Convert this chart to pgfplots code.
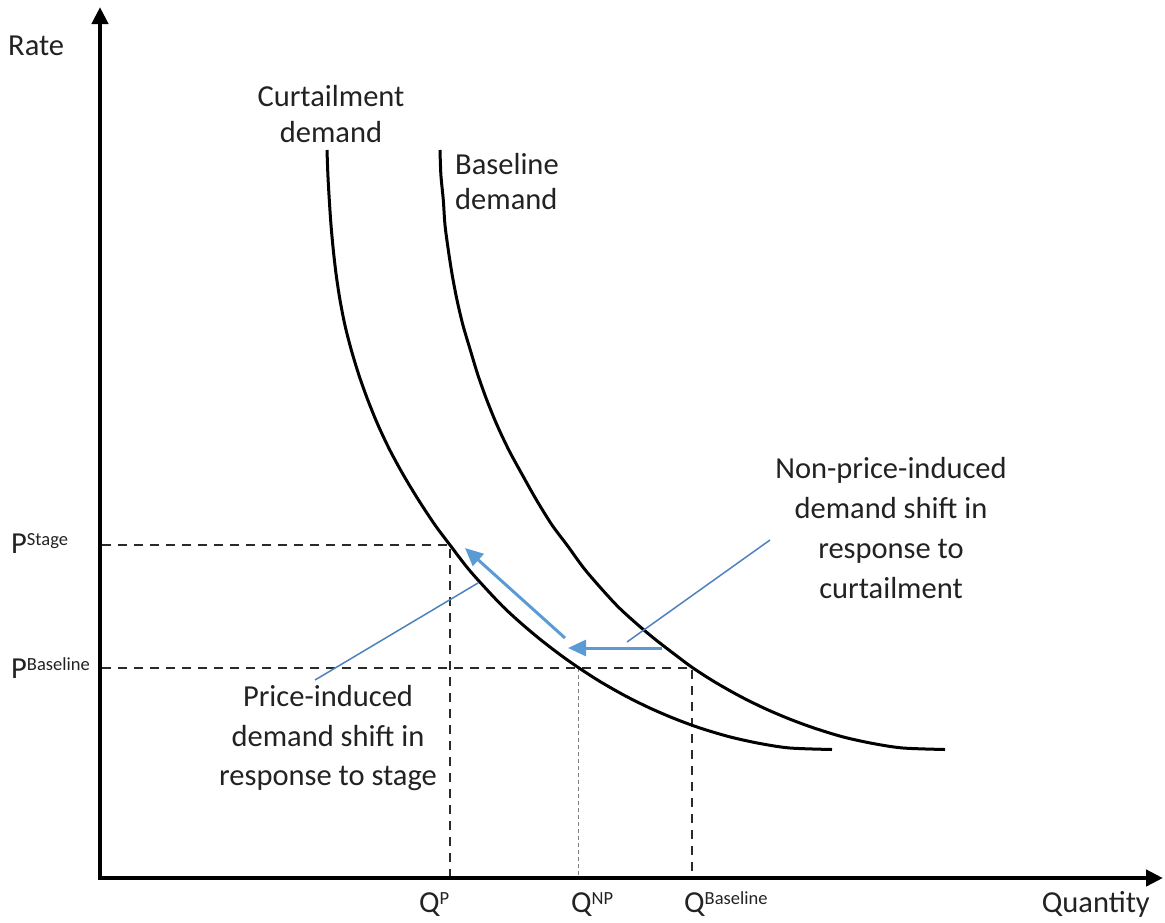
\documentclass[border=0pt]{standalone}
\usepackage{fontspec}
\setmainfont{Carlito}
\usepackage{pgfplots}
\pgfplotsset{compat=1.18}
\usetikzlibrary{arrows.meta}
\definecolor{arrowblue}{HTML}{5B9BD5}
\definecolor{leadblue}{HTML}{4F81BD}
\definecolor{txt}{HTML}{222222}
\definecolor{guidegray}{HTML}{2A2A2A}
\newcommand{\supr}[1]{\raisebox{7.8pt}{\fontsize{18.5}{18.5}\selectfont #1}}
\tikzset{lbl/.style={font=\fontsize{30.5}{36}\selectfont, text=txt, inner sep=0pt}}

\begin{document}
\begin{tikzpicture}
  \begin{axis}[
      width=1165pt, height=922pt, scale only axis,
      xmin=0, xmax=1165, ymin=0, ymax=922,
      % picture coordinates: y grows downwards
      y dir=reverse,
      axis lines=none, clip=false,
      every axis plot/.append style={mark=none},
    ]
    % axes
    \addplot[line width=4.5pt, black, -{Triangle[length=17pt,width=16pt]}]
      coordinates {(100,880) (100,7)};
    \addplot[line width=4.5pt, black, -{Triangle[length=17pt,width=16pt]}]
      coordinates {(98,878) (1163,878)};

    % dashed guides
    \addplot[line width=2.5pt, guidegray, dash pattern=on 9pt off 7pt]
      coordinates {(102,545) (450,545) (450,876)};
    \addplot[line width=2.5pt, guidegray, dash pattern=on 9pt off 7pt]
      coordinates {(102,668) (692,668) (692,876)};
    \addplot[line width=1pt, gray, dash pattern=on 4pt off 3pt]
      coordinates {(578,668) (578,876)};

    % curtailment demand
    \addplot[line width=3pt, black, smooth, tension=0.5] coordinates {
      (327,150) (327.9,175) (329.3,200) (331,225) (333.3,250) (336.2,275)
      (340,300) (344.9,325) (351.3,350) (358.9,375) (367.8,400) (378,425)
      (389.8,450) (403.4,475) (418.5,500) (435,525) (450,545) (470,570.9)
      (500,603.6) (520,622.3) (540,639.2) (560,654.6) (578,667.3) (600,681.5)
      (625,695.7) (650,708.1) (675,718.8) (700,728) (730,736.9) (760,743.5)
      (790,748) (832,749.5)
    };
    % baseline demand
    \addplot[line width=3pt, black, smooth, tension=0.5] coordinates {
      (440,150) (440.9,175) (443.3,200) (445,225) (448.3,250) (452.2,275)
      (457,300) (462.9,325) (470.3,350) (477.9,375) (486.8,400) (497,425)
      (508.8,450) (522.4,475) (536.5,500) (552,525) (567,545) (586,570.9)
      (615,603.6) (635,622.3) (655,639.2) (675,654.6) (692,667.3) (714,681.5)
      (739,695.7) (764,708.1) (789,718.8) (814,728) (843,736.9) (873,743.5)
      (903,748) (945,749.5)
    };

    % shifts
    \addplot[line width=3pt, arrowblue, -{Triangle[length=18pt,width=16pt]}]
      coordinates {(662,648) (568,648)};
    \addplot[line width=3pt, arrowblue, -{Triangle[length=18pt,width=16pt]}]
      coordinates {(565,638) (465,548)};

    % leader lines
    \addplot[line width=1.5pt, leadblue] coordinates {(770,540) (627,642)};
    \addplot[line width=1.5pt, leadblue] coordinates {(315,680) (478,583)};

    % labels
    \node[lbl, anchor=base west] at (axis cs:8,55) {Rate};
    \node[lbl, anchor=base] at (axis cs:331,106) {Curtailment};
    \node[lbl, anchor=base] at (axis cs:331,142) {demand};
    \node[lbl, anchor=base west] at (axis cs:455,174) {Baseline};
    \node[lbl, anchor=base west] at (axis cs:455,209) {demand};

    \node[lbl, anchor=base] at (axis cs:891,478) {Non-price-induced};
    \node[lbl, anchor=base] at (axis cs:891,518) {demand shift in};
    \node[lbl, anchor=base] at (axis cs:891,558) {response to};
    \node[lbl, anchor=base] at (axis cs:891,598) {curtailment};

    \node[lbl, anchor=base] at (axis cs:328,706) {Price-induced};
    \node[lbl, anchor=base] at (axis cs:328,746) {demand shift in};
    \node[lbl, anchor=base] at (axis cs:328,785) {response to stage};

    \node[lbl, anchor=base west] at (axis cs:11,553) {P\supr{Stage}};
    \node[lbl, anchor=base west] at (axis cs:11,678) {P\supr{Baseline}};

    \node[lbl, anchor=base west] at (axis cs:419,912) {Q\supr{P}};
    \node[lbl, anchor=base west] at (axis cs:571,912) {Q\supr{NP}};
    \node[lbl, anchor=base west] at (axis cs:684,912) {Q\supr{Baseline}};
    \node[lbl, anchor=base east] at (axis cs:1150,912) {Quantity};
  \end{axis}
  % page = the axis rectangle, so picture units match the reference pixels
  \pgfresetboundingbox
  \path[use as bounding box] (0,0) rectangle (1165pt,922pt);
\end{tikzpicture}
\end{document}
